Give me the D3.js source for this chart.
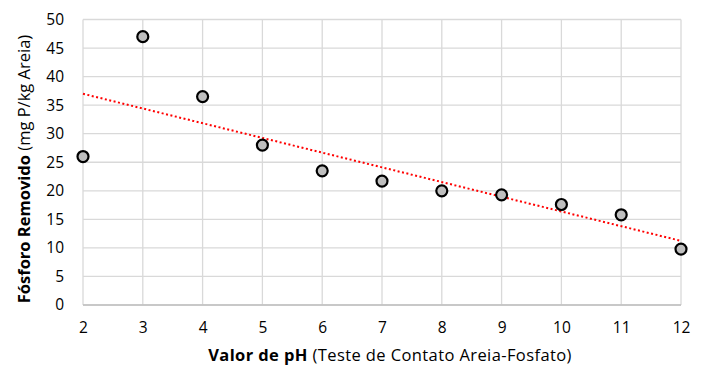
<!DOCTYPE html>
<html>
<head>
<meta charset="utf-8">
<script src="https://cdn.jsdelivr.net/npm/d3@7"></script>
<style>
  body { margin: 0; background: #fff; }
  text { font-family: "Open Sans", Lato, sans-serif; fill: #000; }
</style>
</head>
<body>
<svg id="chart" width="703" height="365"></svg>
<script>
// pH values and phosphorus removed
var phValues = [2, 3, 4, 5, 6, 7, 8, 9, 10, 11, 12];
var removed = [26, 47, 36.5, 28, 23.5, 21.7, 20, 19.3, 17.6, 15.8, 9.8];
var yTicks = [0, 5, 10, 15, 20, 25, 30, 35, 40, 45, 50];
var xTicks = [2, 3, 4, 5, 6, 7, 8, 9, 10, 11, 12];

var svg = d3.select("#chart");
var margin = { top: 19.5, right: 22, bottom: 60, left: 83 };
var width = 703 - margin.left - margin.right;
var height = 365 - margin.top - margin.bottom;

var x = d3.scaleLinear().domain([2, 12]).range([0, width]);
var y = d3.scaleLinear().domain([0, 50]).range([height, 0]);

var g = svg.append("g").attr("transform", "translate(" + margin.left + "," + margin.top + ")");

// grid
g.selectAll(".hgrid").data(yTicks).enter().append("line")
  .attr("x1", 0).attr("x2", width)
  .attr("y1", function(d) { return y(d); }).attr("y2", function(d) { return y(d); })
  .style("stroke", "#d9d9d9").style("stroke-width", 1.3);
g.selectAll(".vgrid").data(xTicks).enter().append("line")
  .attr("y1", 0).attr("y2", height)
  .attr("x1", function(d) { return x(d); }).attr("x2", function(d) { return x(d); })
  .style("stroke", "#d9d9d9").style("stroke-width", 1.3);
g.append("line").attr("x1", 0).attr("x2", width).attr("y1", height).attr("y2", height)
  .style("stroke", "#bfbfbf").style("stroke-width", 1.5);

// axes (labels only)
var yAxis = g.append("g").call(d3.axisLeft(y).tickValues(yTicks).tickSize(0).tickPadding(19));
var xAxis = g.append("g").attr("transform", "translate(0," + height + ")")
  .call(d3.axisBottom(x).tickValues(xTicks).tickSize(0).tickPadding(17));
[yAxis, xAxis].forEach(function(a) {
  a.select(".domain").remove();
  a.selectAll("text").style("font-size", "15.5px").style("fill", "#000")
    .style("font-family", "'Open Sans', Lato, sans-serif");
});

// least squares trend line
var mx = d3.mean(phValues), my = d3.mean(removed);
var sxy = d3.sum(phValues, function(d, i) { return (d - mx) * (removed[i] - my); });
var sxx = d3.sum(phValues, function(d) { return (d - mx) * (d - mx); });
var slope = sxy / sxx, icpt = my - slope * mx;
g.append("line")
  .attr("x1", x(2)).attr("y1", y(icpt + slope * 2))
  .attr("x2", x(12)).attr("y2", y(icpt + slope * 12))
  .style("stroke", "#ff0000").style("stroke-width", 2).style("stroke-dasharray", "2,2.5");

// points
g.selectAll(".pt").data(phValues).enter().append("circle")
  .attr("cx", function(d) { return x(d); })
  .attr("cy", function(d, i) { return y(removed[i]); })
  .attr("r", 5.5)
  .style("fill", "#bfbfbf").style("stroke", "#000").style("stroke-width", 2.2);

// axis titles
var xt = svg.append("text").attr("x", 390).attr("y", 361)
  .attr("text-anchor", "middle").style("font-size", "16.5px").style("letter-spacing", "0.4px");
xt.append("tspan").style("font-weight", "bold").text("Valor de pH");
xt.append("tspan").text(" (Teste de Contato Areia-Fosfato)");

var yt = svg.append("text").attr("transform", "translate(30,169) rotate(-90)")
  .attr("text-anchor", "middle").style("font-size", "16.5px");
yt.append("tspan").style("font-weight", "bold").text("Fósforo Removido");
yt.append("tspan").text(" (mg P/kg Areia)");
</script>
</body>
</html>
